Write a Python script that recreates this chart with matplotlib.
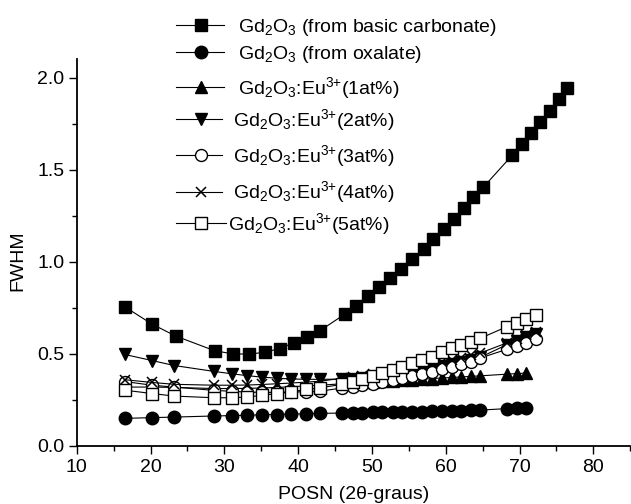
import matplotlib
matplotlib.use("Agg")
import matplotlib.pyplot as plt
from matplotlib.lines import Line2D
from matplotlib.ticker import MultipleLocator

plt.rcParams['font.family'] = ['Liberation Sans', 'DejaVu Sans']
plt.rcParams['mathtext.fontset'] = 'custom'
plt.rcParams['mathtext.rm'] = 'Liberation Sans'
plt.rcParams['mathtext.it'] = 'Liberation Sans:italic'
plt.rcParams['mathtext.bf'] = 'Liberation Sans:bold'

# ---- data ----
x_carb = [16.5, 20.2, 23.4, 28.7, 31.2, 33.4, 35.5, 37.5, 39.4, 41.2, 43.0,
          46.3, 47.9, 49.5, 51.0, 52.5, 54.0, 55.5, 57.0, 58.3, 59.8, 61.1,
          62.5, 63.7, 65.1, 69.0, 70.3, 71.5, 72.8, 74.1, 75.3, 76.4]
y_carb = [0.756, 0.662, 0.597, 0.517, 0.500, 0.499, 0.509, 0.529, 0.560, 0.593, 0.627,
          0.715, 0.762, 0.817, 0.862, 0.912, 0.963, 1.017, 1.070, 1.124, 1.178, 1.234,
          1.292, 1.350, 1.405, 1.578, 1.638, 1.698, 1.757, 1.820, 1.882, 1.942]

x_dop = [16.5, 20.2, 23.2, 28.6, 31.0, 33.1, 35.1, 37.2, 39.1, 41.1, 43.0,
         46.0, 47.4, 48.7, 50.1, 51.4, 52.8, 54.1, 55.5, 56.8, 58.1, 59.5,
         60.8, 62.1, 63.4, 64.7, 68.3, 69.6, 70.9, 72.2]

y_oxal = [0.150, 0.154, 0.157, 0.163, 0.165, 0.167, 0.169, 0.171, 0.173, 0.175, 0.177,
          0.179, 0.180, 0.181, 0.182, 0.183, 0.184, 0.185, 0.186, 0.187, 0.188, 0.189,
          0.190, 0.191, 0.193, 0.195, 0.203, 0.205, 0.207]
y_eu1 = [0.320, 0.320, 0.318, 0.312, 0.312, 0.313, 0.315, 0.318, 0.322, 0.326, 0.330,
         0.338, 0.342, 0.345, 0.348, 0.351, 0.354, 0.357, 0.360, 0.363, 0.366, 0.369,
         0.372, 0.375, 0.378, 0.381, 0.390, 0.393, 0.396]
y_eu2 = [0.497, 0.464, 0.437, 0.405, 0.392, 0.382, 0.374, 0.368, 0.364, 0.362, 0.362,
         0.363, 0.366, 0.370, 0.375, 0.381, 0.388, 0.396, 0.405, 0.414, 0.424, 0.434,
         0.445, 0.457, 0.469, 0.482, 0.550, 0.570, 0.590, 0.610]
y_eu3 = [0.350, 0.330, 0.320, 0.302, 0.297, 0.293, 0.291, 0.291, 0.293, 0.295, 0.298,
         0.315, 0.322, 0.330, 0.339, 0.348, 0.358, 0.368, 0.379, 0.391, 0.403, 0.416,
         0.430, 0.444, 0.458, 0.478, 0.525, 0.542, 0.560, 0.580]
y_eu4 = [0.360, 0.345, 0.335, 0.330, 0.330, 0.331, 0.334, 0.338, 0.342, 0.347, 0.352,
         0.368, 0.375, 0.382, 0.390, 0.398, 0.407, 0.416, 0.426, 0.436, 0.447, 0.458,
         0.469, 0.480, 0.492, 0.505, 0.560, 0.580, 0.600, 0.620]
y_eu5 = [0.303, 0.285, 0.271, 0.262, 0.262, 0.266, 0.275, 0.285, 0.295, 0.307, 0.316,
         0.335, 0.350, 0.365, 0.380, 0.396, 0.413, 0.430, 0.448, 0.466, 0.485, 0.510,
         0.530, 0.548, 0.566, 0.585, 0.648, 0.669, 0.689, 0.711]

labels = [r'Gd$_2$O$_3$ (from basic carbonate)',
          r'Gd$_2$O$_3$ (from oxalate)',
          r'Gd$_2$O$_3$:Eu$^{3{+}}$(1at%)',
          r'Gd$_2$O$_3$:Eu$^{3{+}}$(2at%)',
          r'Gd$_2$O$_3$:Eu$^{3{+}}$(3at%)',
          r'Gd$_2$O$_3$:Eu$^{3{+}}$(4at%)',
          r'Gd$_2$O$_3$:Eu$^{3{+}}$(5at%)']

W, H = 631, 504
fig = plt.figure(figsize=(W / 100, H / 100), dpi=100)
ax = fig.add_axes([76.7 / W, 1 - 446 / H, (630.2 - 76.7) / W, (446 - 59.2) / H])

lw = 0.8
styles = [
    dict(marker='s', ms=8.6, mfc='black', mec='black'),
    dict(marker='o', ms=9.0, mfc='black', mec='black'),
    dict(marker='^', ms=9.0, mfc='black', mec='black'),
    dict(marker='v', ms=9.0, mfc='black', mec='black'),
    dict(marker='o', ms=8.6, mfc='white', mec='black', mew=1.0),
    dict(marker='x', ms=7.5, mfc='black', mec='black', mew=1.1),
    dict(marker='s', ms=8.2, mfc='white', mec='black', mew=1.0),
]
series = [
    (x_carb, y_carb),
    (x_dop[:len(y_oxal)], y_oxal),
    (x_dop[:len(y_eu1)], y_eu1),
    (x_dop, y_eu2),
    (x_dop, y_eu3),
    (x_dop, y_eu4),
    (x_dop, y_eu5),
]
for (xs, ys), st in zip(series, styles):
    ax.plot(xs, ys, color='black', lw=lw, **st)

ax.set_xlim(10, 85)
ax.set_ylim(0, 2.1)
ax.xaxis.set_major_locator(MultipleLocator(10))
ax.xaxis.set_minor_locator(MultipleLocator(5))
ax.yaxis.set_major_locator(MultipleLocator(0.5))
ax.yaxis.set_minor_locator(MultipleLocator(0.25))
ax.set_xticks([10, 20, 30, 40, 50, 60, 70, 80])
ax.set_yticks([0.0, 0.5, 1.0, 1.5, 2.0])
ax.set_yticklabels(['0.0', '0.5', '1.0', '1.5', '2.0'])
for s in ['top', 'right']:
    ax.spines[s].set_visible(False)
for s in ['left', 'bottom']:
    ax.spines[s].set_linewidth(1.3)
ax.tick_params(which='major', direction='out', length=6, width=1.0, labelsize=14, pad=3)
ax.tick_params(which='minor', direction='out', length=3.8, width=1.0)

ax.set_xlabel('POSN (2θ-graus)', fontsize=14)
ax.xaxis.set_label_coords(0.5, -(486 - 446) / (446 - 59.2))
ax.set_ylabel('FWHM', fontsize=14)
ax.yaxis.set_label_coords(-(76.7 - 26) / (630.2 - 76.7), (446 - 261) / (446 - 59.2))

# ---- custom legend (figure coordinates) ----
leg_y = [25, 52, 87, 119, 155, 191.5, 223]
leg_tx = [238, 238, 238, 233, 233, 233, 228]
leg_x1 = [224, 224, 224, 222, 222, 222, 226]
for st, lab, yc, tx, x1 in zip(styles, labels, leg_y, leg_tx, leg_x1):
    yf = 1 - yc / H
    fig.add_artist(Line2D([176 / W, x1 / W], [yf, yf], color='black', lw=lw,
                          transform=fig.transFigure))
    fig.add_artist(Line2D([201 / W], [yf], color='black', lw=0, linestyle='none',
                          transform=fig.transFigure, **st))
    fig.text(tx / W, 1 - (yc + 7) / H, lab, fontsize=14, ha='left', va='baseline')

fig.savefig('out.png', dpi=100)
